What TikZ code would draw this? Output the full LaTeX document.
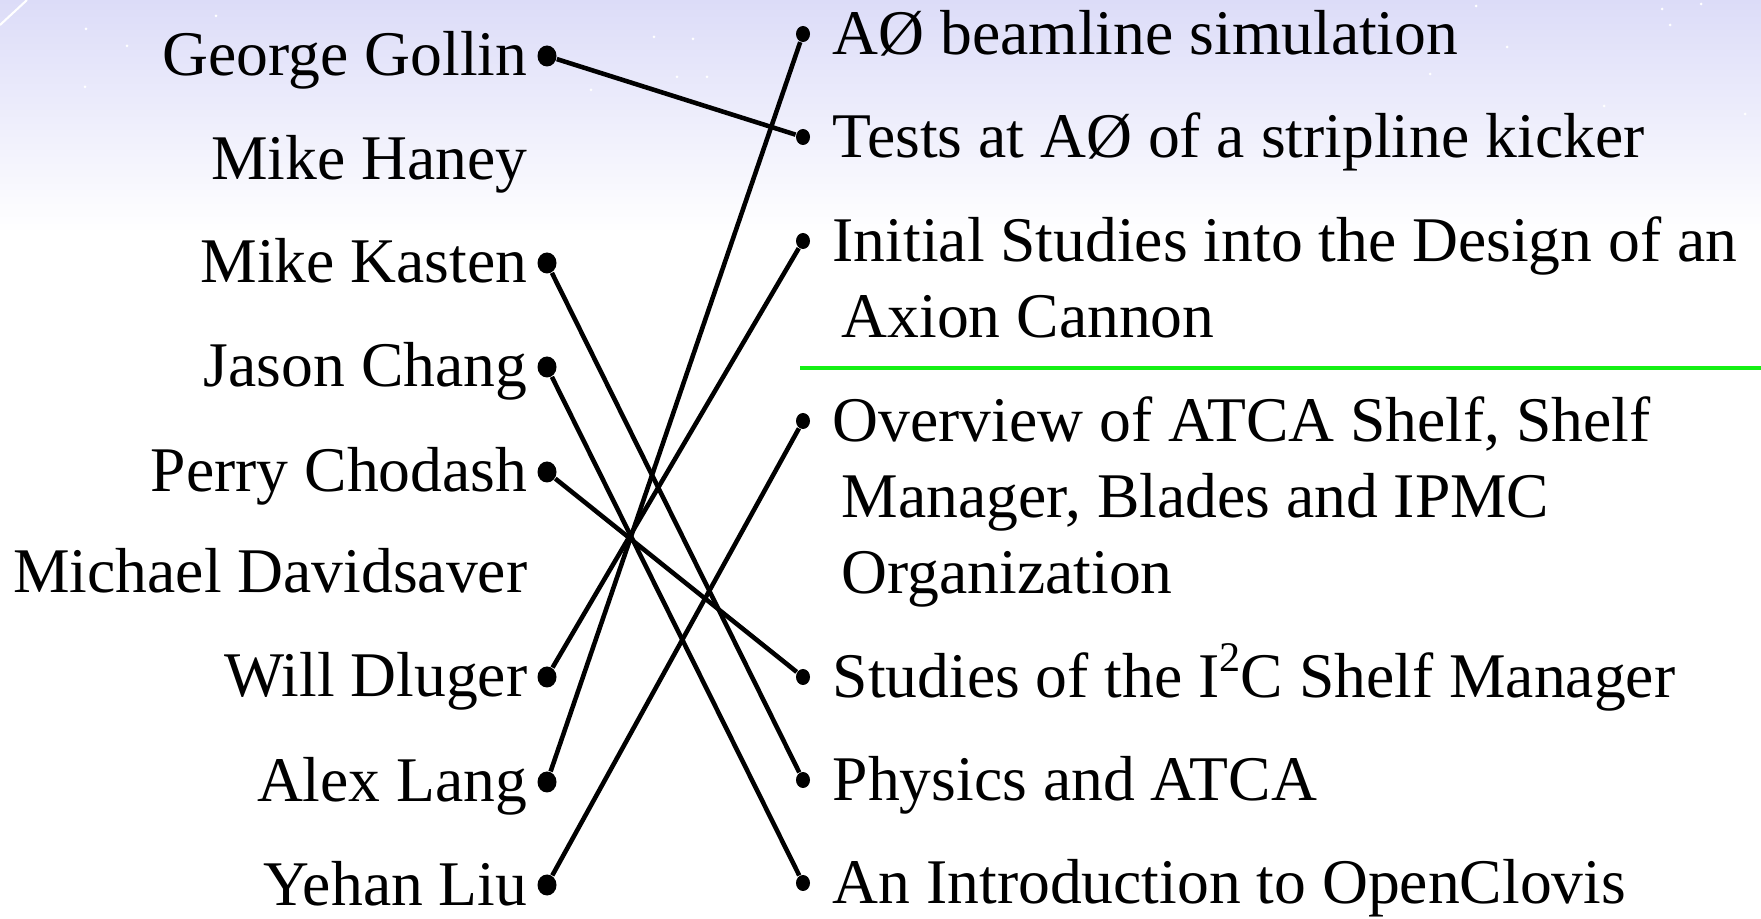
\documentclass[tikz,border=0pt]{standalone}
\usepackage{fontspec}
\setmainfont{Liberation Serif}
\usepackage{tikz}
\usetikzlibrary{calc,shapes.geometric}

\definecolor{bgtop}{RGB}{220,220,248}
\definecolor{rulegreen}{RGB}{20,240,20}

\begin{document}
\begin{tikzpicture}[
  x=1cm,y=1cm,
  font=\fontsize{18.1pt}{21pt}\selectfont,
  who/.style={anchor=base east, inner sep=0pt},
  talk/.style={anchor=base west, inner sep=0pt},
  ldot/.style={ellipse, fill=black, inner sep=0pt, minimum width=0.19cm, minimum height=0.21cm},
  rdot/.style={ellipse, fill=black, inner sep=0pt, minimum width=0.14cm, minimum height=0.16cm},
  link/.style={line width=1.3pt},
]
\useasboundingbox (0,0) rectangle (17.61,9.18);

%% ---------- BACKGROUND ----------
\fill[white] (0,0) rectangle (17.61,9.18);
\shade[top color=bgtop, bottom color=white] (0,6.85) rectangle (17.61,9.18);
\draw[white, line width=0.6pt] (0,8.93) -- (0.27,9.18);
\foreach \sx/\sy in {0.86/8.89,1.27/8.72,0.85/8.31,2.16/9.02,6.54/8.81,6.93/8.79,
                     6.77/8.41,7.07/8.41,5.91/8.28,14.76/9.12,16.62/9.09,17.01/9.14,
                     16.70/8.93,15.07/8.71,14.30/8.44,16.04/8.12,17.45/8.04}
  \fill[white] (\sx,\sy) circle (0.015);

%% ---------- NAMES ----------
\node[who] (gg) at (5.28,8.42) {George Gollin};
\node[who] (mh) at (5.28,7.38) {Mike Haney};
\node[who] (mk) at (5.28,6.35) {Mike Kasten};
\node[who] (jc) at (5.28,5.31) {Jason Chang};
\node[who] (pc) at (5.28,4.26) {Perry Chodash};
\node[who] (md) at (5.28,3.25) {Michael Davidsaver};
\node[who] (wd) at (5.28,2.21) {Will Dluger};
\node[who] (al) at (5.28,1.16) {Alex Lang};
\node[who] (yl) at (5.28,0.13) {Yehan Liu};
\foreach \id in {gg,mk,jc,pc,wd,al,yl}
  \node[ldot] (\id-d) at ($(\id.base east)+(0.19,0.20)$) {};

%% ---------- TALKS ----------
\node[talk] (ab) at (8.32,8.63) {AØ beamline simulation};
\node[talk] (ts) at (8.32,7.60) {Tests at AØ of a stripline kicker};
\node[talk] (ic) at (8.32,6.56) {Initial Studies into the Design of an};
\node[talk] (ic2) at (8.41,5.80) {Axion Cannon};
\draw[rulegreen, line width=1.3pt] (8.00,5.50) -- (17.61,5.50);
\node[talk] (ov) at (8.32,4.76) {Overview of ATCA Shelf, Shelf};
\node[talk] (ov2) at (8.41,4.00) {Manager, Blades and IPMC};
\node[talk] (ov3) at (8.41,3.24) {Organization};
\node[talk] (st) at (8.32,2.20) {Studies of the I\raisebox{0.42em}{\fontsize{12pt}{12pt}\selectfont 2}C Shelf Manager};
\node[talk] (ph) at (8.32,1.17) {Physics and ATCA};
\node[talk] (oc) at (8.32,0.14) {An Introduction to OpenClovis};
\foreach \id in {ab,ts,ic,ov,st,ph,oc}
  \node[rdot] (\id-d) at ($(\id.base west)+(-0.29,0.21)$) {};

%% ---------- LINKS ----------
\draw[link] (gg-d) -- (ts-d);
\draw[link] (mk-d) -- (ph-d);
\draw[link] (jc-d) -- (oc-d);
\draw[link] (pc-d) -- (st-d);
\draw[link] (wd-d) -- (ic-d);
\draw[link] (al-d) -- (ab-d);
\draw[link] (yl-d) -- (ov-d);
\end{tikzpicture}
\end{document}
